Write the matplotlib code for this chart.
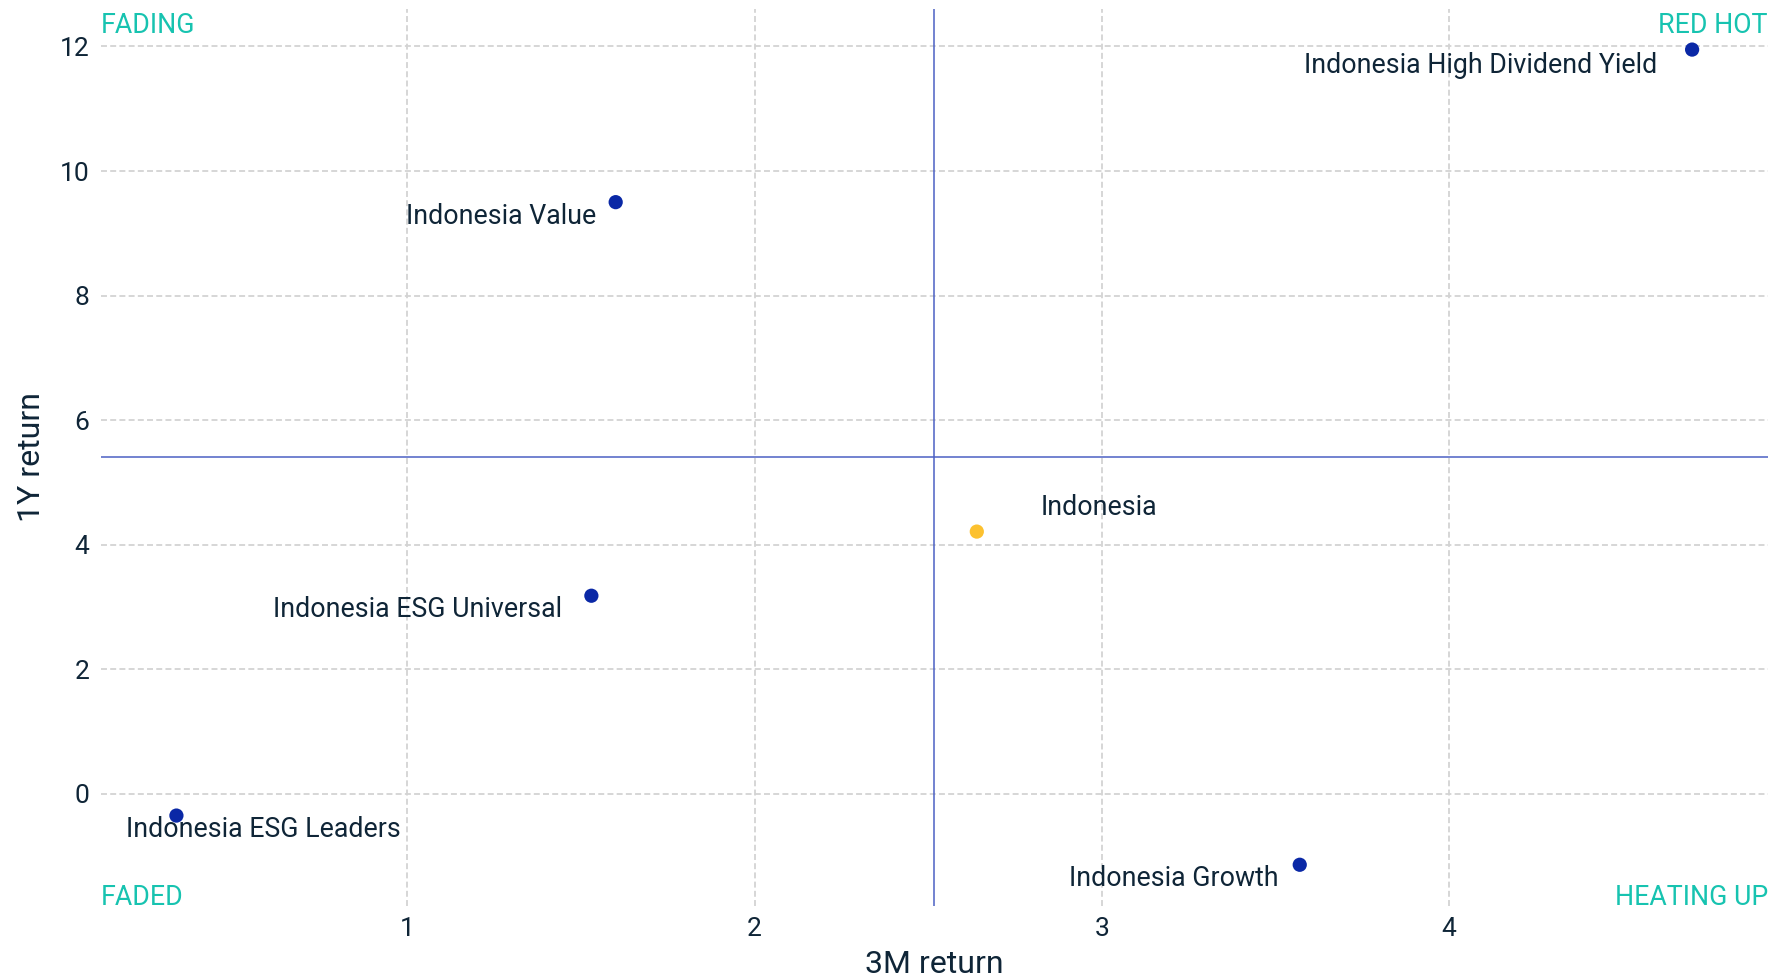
import numpy as np
import matplotlib
matplotlib.use("Agg")
import matplotlib.pyplot as plt

plt.rcParams['font.family'] = ['Roboto', 'DejaVu Sans']

names = ["Indonesia High Dividend Yield", "Indonesia Value", "Indonesia",
         "Indonesia ESG Universal", "Indonesia ESG Leaders", "Indonesia Growth"]
ret_3m = [4.70, 1.60, 2.64, 1.53, 0.335, 3.57]
ret_1y = [11.95, 9.50, 4.21, 3.18, -0.35, -1.14]
is_index = [False, False, True, False, False, False]

# label offsets in pixels (dx, dy, ha)
offsets = [(-35, -16, 'right'), (-19, -14, 'right'), (64, 24, 'left'),
           (-29, -14, 'right'), (87, -14, 'center'), (-21, -14, 'right')]

txt = "#0f2537"
teal = "#17c3b0"
blue = "#0a28a6"
yellow = "#fcc12f"
line_c = "#4c60c4"

fig = plt.figure(figsize=(17.75, 9.8), dpi=100)
ax = fig.add_axes([0.0567, 0.076, 0.9393, 0.915])

x = np.array(ret_3m)
y = np.array(ret_1y)
cols = [yellow if b else blue for b in is_index]
ax.scatter(x, y, s=105, c=cols, zorder=3, linewidths=0)
ax.margins(0.05)

for n, xi, yi, (dx, dy, ha) in zip(names, x, y, offsets):
    ax.annotate(n, (xi, yi), xytext=(dx, dy), textcoords='offset pixels',
                ha=ha, va='center', fontsize=19.3, color=txt, zorder=4)

xm = (x.min() + x.max()) / 2
ym = (y.min() + y.max()) / 2
ax.axvline(xm, color=line_c, lw=1.1, zorder=2)
ax.axhline(ym, color=line_c, lw=1.1, zorder=2)

ax.set_xticks([1, 2, 3, 4])
ax.set_yticks([0, 2, 4, 6, 8, 10, 12])
ax.grid(True, color="#d3d3d3", lw=1.3, linestyle=(0, (3.3, 1.8)), zorder=0)
ax.set_axisbelow(True)
for s in ax.spines.values():
    s.set_visible(False)
ax.tick_params(length=0, labelsize=19, colors=txt, pad=8)
ax.set_xlabel("3M return", fontsize=23, color=txt, labelpad=7)
ax.set_ylabel("1Y return", fontsize=23, color=txt, labelpad=10)

qs = 19.3
ax.text(0, 0.996, "FADING", transform=ax.transAxes, ha='left', va='top', fontsize=qs, color=teal)
ax.text(1, 0.996, "RED HOT", transform=ax.transAxes, ha='right', va='top', fontsize=qs, color=teal)
ax.text(0, -0.006, "FADED", transform=ax.transAxes, ha='left', va='bottom', fontsize=qs, color=teal)
ax.text(1, -0.006, "HEATING UP", transform=ax.transAxes, ha='right', va='bottom', fontsize=qs, color=teal)

fig.savefig("out.png", dpi=100)
